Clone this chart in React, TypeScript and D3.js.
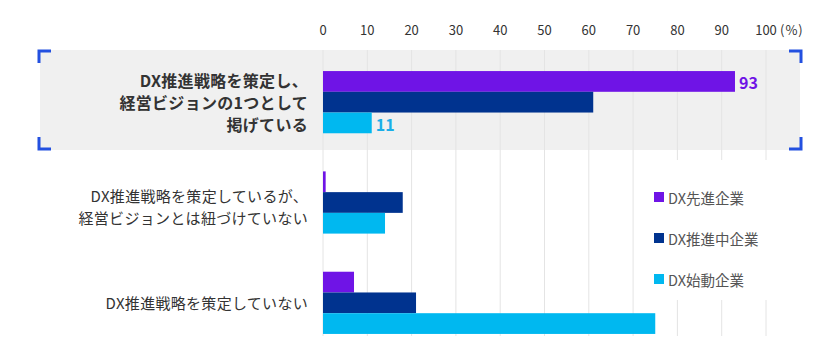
import React from "react";
import * as d3 from "d3";

const categories = [
  ["DX推進戦略を策定し、", "経営ビジョンの1つとして", "掲げている"],
  ["DX推進戦略を策定しているが、", "経営ビジョンとは紐づけていない"],
  ["DX推進戦略を策定していない"],
];
const seriesNames = ["DX先進企業", "DX推進中企業", "DX始動企業"];
const seriesColors = ["#6f14e6", "#00338f", "#00b8f0"];
const advanced = [93, 0.6, 7];
const promoting = [61, 18, 21];
const starting = [11, 14, 75];
const ticks = [0, 10, 20, 30, 40, 50, 60, 70, 80, 90, 100];
const valueLabels = [
  { cat: 0, series: 0, text: "93" },
  { cat: 0, series: 2, text: "11" },
];

const W = 840;
const H = 359;
const FONT = "'Noto Sans CJK JP', 'Noto Sans', sans-serif";

export default function App() {
  const values = [advanced, promoting, starting];
  const catIdx = categories.map((_, i) => String(i));
  const x = d3.scaleLinear().domain([0, 100]).range([323, 766]);
  const y = d3.scaleBand().domain(catIdx).range([52, 353]).paddingInner(0.38).paddingOuter(0.19);
  const ys = d3.scaleBand().domain(seriesNames).range([0, y.bandwidth()]);

  const box = { x0: 40, x1: 800, y0: 50, y1: 150 };
  const arm = 12;
  const bw = 3;
  const bracketColor = "#2350e0";

  return (
    <div style={{ position: "absolute", left: 0, top: 0 }}>
      <svg width={W} height={H} style={{ display: "block", fontFamily: FONT }}>
        <rect x={0} y={0} width={W} height={H} fill="#fff" />
        {/* highlight box */}
        <rect x={box.x0} y={box.y0} width={box.x1 - box.x0} height={box.y1 - box.y0} fill="#f0f0f0" />
        {/* grid lines */}
        {ticks.map((t) => (
          <line key={t} x1={x(t)} x2={x(t)} y1={box.y0} y2={336} stroke="#e4e4e4" strokeWidth={1} />
        ))}
        {/* legend background masking grid */}
        <rect x={645} y={160} width={145} height={140} fill="#fff" />
        {/* tick labels */}
        {ticks.map((t) => (
          <text key={t} x={x(t)} y={29} textAnchor="middle" dominantBaseline="central" fontSize={13} fill="#333">
            {t}
          </text>
        ))}
        <text x={780} y={29} dominantBaseline="central" fontSize={13} letterSpacing={1} fill="#333">
          (%)
        </text>
        {/* bars */}
        {categories.map((_, ci) =>
          seriesNames.map((s, si) => (
            <rect
              key={ci + "-" + si}
              x={x(0)}
              y={(y(String(ci)) as number) + (ys(s) as number)}
              width={x(values[si][ci]) - x(0)}
              height={ys.bandwidth()}
              fill={seriesColors[si]}
            />
          ))
        )}
        {/* value labels */}
        {valueLabels.map((v, i) => (
          <text
            key={i}
            x={x(values[v.series][v.cat]) + 4}
            y={(y(String(v.cat)) as number) + (ys(seriesNames[v.series]) as number) + ys.bandwidth() / 2 + 1}
            dominantBaseline="central"
            fontSize={16}
            fontWeight={700}
            fill={seriesColors[v.series] === "#00b8f0" ? "#1aaee8" : seriesColors[v.series]}
          >
            {v.text}
          </text>
        ))}
        {/* category labels */}
        {categories.map((lines, ci) => {
          const bold = ci === 0;
          const lh = bold ? 22 : 22;
          const cy = (y(String(ci)) as number) + y.bandwidth() / 2 + (ci === 1 ? 4 : 0);
          const start = cy - ((lines.length - 1) * lh) / 2;
          return lines.map((ln, li) => (
            <text
              key={ci + "-" + li}
              x={308}
              y={start + li * lh}
              textAnchor="end"
              dominantBaseline="central"
              fontSize={bold ? 16 : 15}
              letterSpacing={0.3}
              fontWeight={bold ? 700 : 400}
              fill="#333"
            >
              {ln}
            </text>
          ));
        })}
        {/* legend */}
        {seriesNames.map((s, i) => (
          <g key={s} transform={`translate(654, ${197 + i * 41})`}>
            <rect x={0} y={-5} width={10} height={10} fill={seriesColors[i]} />
            <text x={14} y={0} dominantBaseline="central" fontSize={14.5} fill="#555">
              {s}
            </text>
          </g>
        ))}
        {/* corner brackets */}
        <path
          d={`M${box.x0 - 1 + arm},${box.y0 + 1} H${box.x0 - 1} V${box.y0 + 1 + arm}`}
          fill="none"
          stroke={bracketColor}
          strokeWidth={bw}
        />
        <path
          d={`M${box.x0 - 1},${box.y1 - 1 - arm} V${box.y1 - 1} H${box.x0 - 1 + arm}`}
          fill="none"
          stroke={bracketColor}
          strokeWidth={bw}
        />
        <path
          d={`M${box.x1 + 1 - arm},${box.y0 + 1} H${box.x1 + 1} V${box.y0 + 1 + arm}`}
          fill="none"
          stroke={bracketColor}
          strokeWidth={bw}
        />
        <path
          d={`M${box.x1 + 1},${box.y1 - 1 - arm} V${box.y1 - 1} H${box.x1 + 1 - arm}`}
          fill="none"
          stroke={bracketColor}
          strokeWidth={bw}
        />
      </svg>
    </div>
  );
}
